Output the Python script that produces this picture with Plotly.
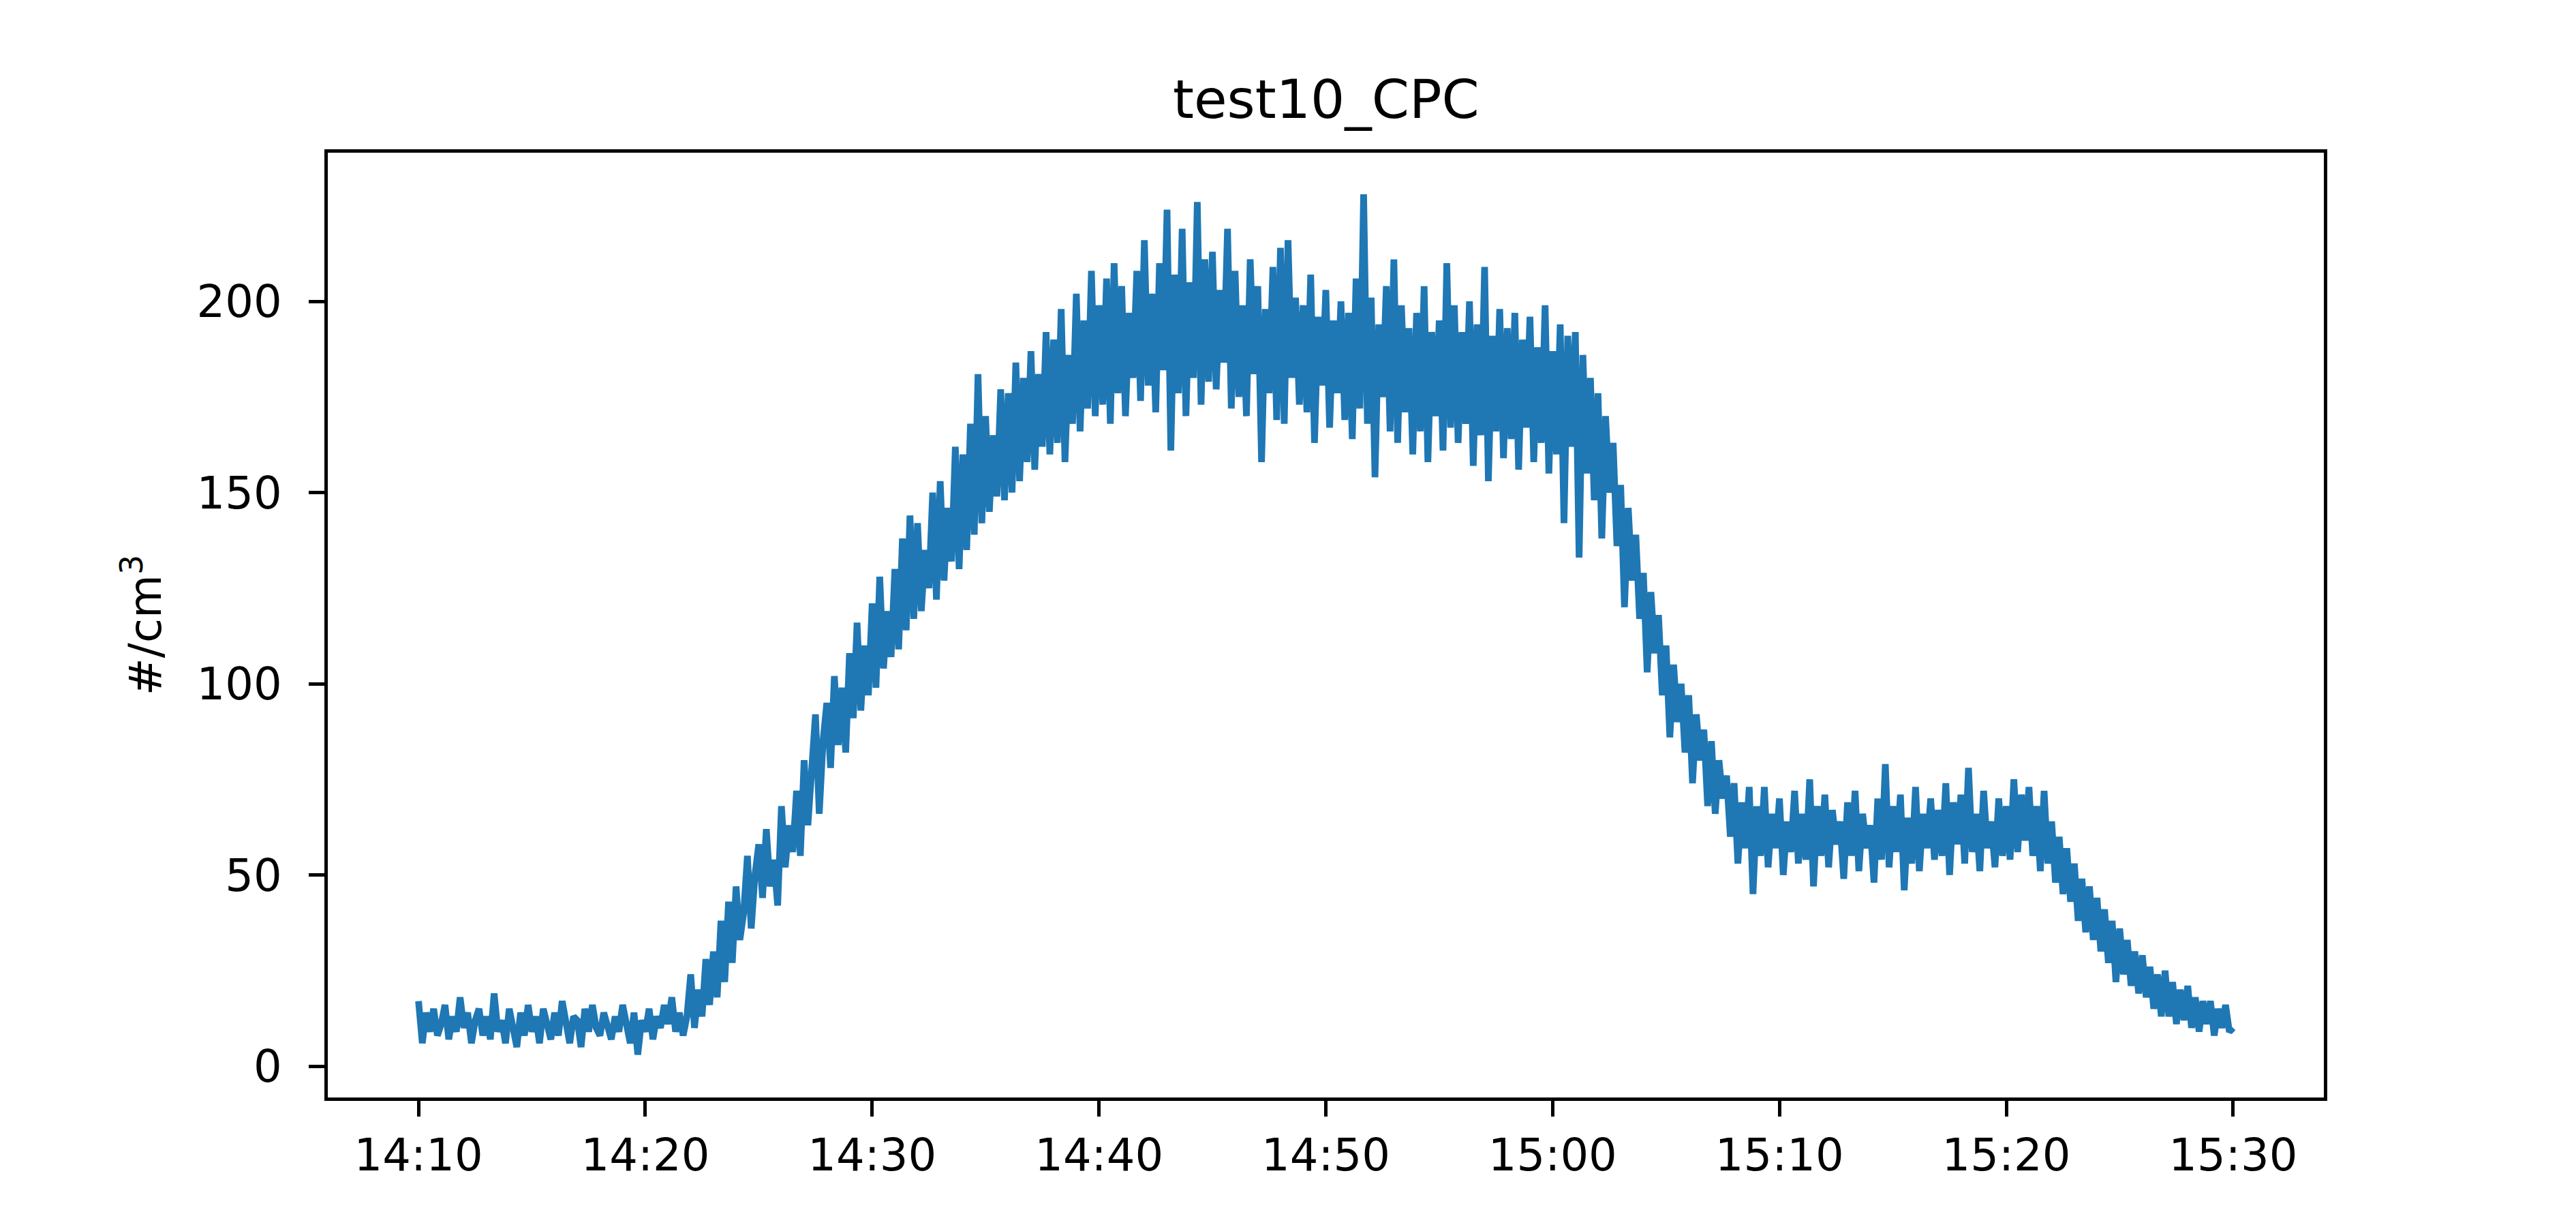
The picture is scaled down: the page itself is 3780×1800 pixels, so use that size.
"""
CPC particle concentration time series, test 10
"""
import pandas as pd
import plotly.graph_objects as go

# readings every 10 s, one row per minute, starting 14:10
baseline = [
    17, 6, 14, 9, 15, 8,
    11, 16, 7, 13, 9, 18,
    10, 14, 6, 12, 15, 8,
    13, 7, 19, 9, 12, 6,
    15, 10, 5, 14, 8, 16,
    9, 13, 6, 15, 11, 7,
    14, 8, 17, 10, 6, 13,
    12, 5, 15, 9, 16, 10,
    8, 14, 11, 7, 13, 9,
    16, 10, 6, 14, 3, 12,
    9, 15, 7, 13, 10, 16,
    11, 18, 9, 14, 8, 13,
]
rise = [
    24, 10, 20, 13, 28, 16,
    30, 18, 38, 22, 43, 27,
    47, 33, 40, 55, 36, 50,
    58, 44, 62, 47, 54, 42,
    68, 52, 63, 56, 72, 55,
    80, 63, 76, 92, 66, 85,
    95, 78, 102, 84, 99, 82,
    108, 91, 116, 93, 110, 97,
    121, 99, 128, 104, 119, 107,
    130, 109, 138, 114, 144, 117,
    142, 119, 135, 125, 150, 122,
    153, 127, 146, 132, 162, 130,
    160, 135, 168, 139, 181, 142,
    170, 145, 165, 149, 177, 148,
    176, 150, 184, 153, 180, 158,
    187, 156, 181, 162, 192, 160,
    190, 163, 198, 158, 186, 168,
    202, 166, 195, 172, 208, 170,
]
plateau = [
    199, 173, 206, 168, 210, 176,
    204, 170, 197, 180, 208, 174,
    216, 178, 202, 171, 210, 182,
    224, 161, 207, 176, 219, 170,
    205, 180, 226, 173, 211, 179,
    213, 177, 203, 184, 219, 172,
    208, 175, 199, 170, 211, 181,
    204, 158, 198, 176, 209, 169,
    214, 168, 216, 180, 201, 173,
    199, 171, 207, 163, 196, 178,
    203, 167, 195, 176, 200, 169,
    197, 164, 206, 172, 228, 168,
    201, 154, 194, 175, 204, 166,
    211, 163, 199, 171, 193, 160,
    197, 166, 204, 158, 192, 170,
    195, 161, 210, 167, 199, 163,
    192, 168, 200, 157, 194, 165,
    209, 153, 191, 166, 198, 159,
    193, 164, 197, 156, 190, 167,
    196, 158, 188, 163, 199, 155,
    187, 160, 194, 142, 191, 162,
    192, 133, 186, 155, 180, 148,
]
decline = [
    176, 138, 170, 150, 163, 136,
    152, 120, 146, 127, 139, 117,
    129, 103, 124, 108, 118, 97,
    110, 86, 105, 90, 100, 82,
    97, 74, 92, 80, 88, 68,
    85, 66, 80, 70, 76, 60,
    74, 53, 69, 57, 73, 45,
]
shoulder = [
    68, 55, 73, 52, 66, 57,
    70, 50, 64, 56, 72, 53,
    66, 54, 75, 47, 68, 55,
    71, 52, 67, 58, 64, 49,
    69, 55, 72, 51, 66, 57,
    63, 48, 70, 54, 79, 52,
    68, 56, 71, 46, 65, 53,
    73, 51, 66, 57, 70, 54,
    67, 55, 74, 50, 69, 58,
    71, 53, 78, 56, 66, 51,
    72, 57, 64, 52, 70, 55,
    68, 54, 75, 56, 71, 59,
    73, 55, 68, 51, 72, 53,
]
tail = [
    64, 48, 60, 45, 57, 43,
    53, 38, 49, 35, 47, 33,
    44, 30, 41, 27, 38, 22,
    36, 24, 33, 21, 30, 19,
    29, 18, 26, 15, 24, 13,
    25, 13, 22, 11, 20, 12,
    21, 10, 18, 9, 17, 11,
    17, 8, 15, 10, 16, 9,
    10,
]

cpc = baseline + rise + plateau + decline + shoulder + tail
times = pd.date_range("2021-06-01 14:10:00", periods=len(cpc), freq="10s")

x_ticks = pd.date_range("2021-06-01 14:10:00", "2021-06-01 15:30:00", freq="10min")
y_ticks = [0, 50, 100, 150, 200]

FONT = "DejaVu Sans"
BLACK = "#000000"

fig = go.Figure()
fig.add_trace(go.Scatter(
    x=times,
    y=cpc,
    mode="lines",
    line=dict(color="#1f77b4", width=9.8),
    showlegend=False,
))

fig.add_annotation(
    text="test10_CPC",
    xref="paper", yref="paper",
    x=0.5, y=1.0,
    xanchor="center", yanchor="bottom",
    yshift=30,
    showarrow=False,
    font=dict(family=FONT, size=79, color=BLACK),
)

axis_style = dict(
    showline=True,
    mirror=True,
    linecolor=BLACK,
    linewidth=5.25,
    showgrid=False,
    zeroline=False,
    ticks="outside",
    ticklen=23,
    tickwidth=5.25,
    tickcolor=BLACK,
    tickfont=dict(family=FONT, size=65.6, color=BLACK),
)

fig.update_layout(
    width=3780,
    height=1800,
    margin=dict(l=473, r=378, t=216, b=198),
    paper_bgcolor="white",
    plot_bgcolor="white",
    font=dict(family=FONT, color=BLACK),
    xaxis=dict(
        **axis_style,
        range=["2021-06-01 14:06:00", "2021-06-01 15:34:00"],
        tickvals=x_ticks,
        ticktext=[t.strftime("%H:%M") for t in x_ticks],
        ticklabelstandoff=0,
    ),
    yaxis=dict(
        **axis_style,
        range=[-8.2, 238.9],
        tickvals=y_ticks,
        ticklabelstandoff=26,
        title=dict(
            text="#/cm<sup>3</sup>",
            font=dict(family=FONT, size=65.6, color=BLACK),
            standoff=32,
        ),
    ),
)

fig.write_html("out.html")
